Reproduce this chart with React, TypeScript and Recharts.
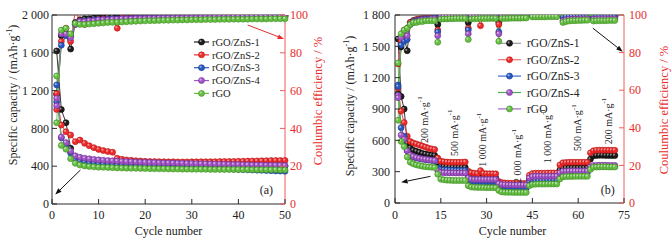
import React from 'react';
import { ComposedChart, Line, XAxis, YAxis, ReferenceLine, ReferenceDot, Customized } from 'recharts';

const FONT = '"Liberation Serif", "Times New Roman", Times, serif';
const AXIS = '#2b2b2b';
const RED_AXIS = '#f25a5a';
const RED_TEXT = '#e82c2c';

const seriesNames = ['rGO/ZnS-1', 'rGO/ZnS-2', 'rGO/ZnS-3', 'rGO/ZnS-4', 'rGO'];
const markerColors = ['#1e1e1e', '#ef2b2b', '#2858c2', '#a255c6', '#66c044'];
const markerEdges = ['#000000', '#b01818', '#173a8a', '#6e2f8e', '#3f8a24'];
const legendLineColorsB = ['#9a9a9a', '#f07070', '#3a6ad0', '#4caf50', '#a066c8'];

// ---------- Panel (a) ----------
const cyclesA = [1,2,3,4,5,6,7,8,9,10,11,12,13,14,15,16,17,18,19,20,21,22,23,24,25,26,27,28,29,30,31,32,33,34,35,36,37,38,39,40,41,42,43,44,45,46,47,48,49,50];
const capA1 = [1620,1000,860,590,475,455,448,442,437,433, 430,428,426,424,422,420,419,418,417,416, 415,414,413,412,411,410,410,409,408,408, 407,406,406,405,405,404,404,403,403,402, 402,402,401,401,400,400,400,400,400,400];
const capA2 = [1170,835,765,730,660,677,642,617,596,578, 565,555,548,483,473,466,462,458,455,452, 450,449,448,447,446,446,445,445,445,446, 446,447,447,448,448,449,450,450,451,452, 453,454,455,456,457,458,459,460,460,461];
const capA3 = [1260,700,620,540,470,452,442,435,430,425, 421,418,415,412,410,408,406,404,402,400, 398,396,395,393,392,390,388,386,385,383, 381,380,378,377,375,373,372,370,368,366, 364,362,360,358,356,354,352,350,348,346];
const capA4 = [1118,710,650,560,510,495,485,478,472,467, 463,460,457,454,451,449,447,445,443,441, 440,438,437,435,434,433,432,430,429,428, 427,426,425,424,423,421,420,419,418,417, 416,415,414,413,412,411,410,410,409,408];
const capA5 = [1355,620,580,480,430,412,403,397,393,390, 388,386,384,382,380,379,378,377,376,375, 374,373,372,372,371,370,370,369,369,368, 368,367,367,366,366,366,365,365,365,364, 364,364,363,363,363,362,362,362,361,361];
const ceA1 = [58,89,90,82,96,97.5,98,98,98.5,98.5, 98.5,99,99,98.5,99,99,99,99,99.2,99.2, 99.2,99.3,99.3,99.3,99.4,99.4,99.4,99.5,99.5,99.5, 99.5,99.5,99.5,99.6,99.6,99.6,99.6,99.6,99.7,99.7, 99.7,99.7,99.7,99.7,99.8,99.8,99.8,99.8,99.8,99.8];
const ceA2 = [50,86,93,86,102,97,95,97,97.5,97.5, 98,98,98,93,98.5,98.5,98.5,99,99,99, 99,99,99.2,99.2,99.2,99.3,99.3,99.3,99.4,99.4, 99.4,99.5,99.5,99.5,99.5,99.5,99.6,99.6,99.6,99.6, 99.6,99.7,99.7,99.7,99.7,99.7,99.7,99.8,99.8,99.8];
const ceA3 = [54,84,89,89,95,96.5,97,97,97.5,97.5, 97.5,98,98,98,98,98.2,98.2,98.4,98.4,98.5, 98.5,98.6,98.6,98.7,98.7,98.8,98.8,98.8,98.9,98.9, 99,99,99,99,99.1,99.1,99.1,99.2,99.2,99.2, 99.2,99.3,99.3,99.3,99.3,99.4,99.4,99.4,99.4,99.4];
const ceA4 = [52,90,90,88,95,96.5,96.5,97,97,97.5, 97.5,97.5,97.8,97.8,98,98,98,98.2,98.2,98.2, 98.3,98.3,98.4,98.4,98.4,98.5,98.5,98.5,98.6,98.6, 98.6,98.7,98.7,98.7,98.8,98.8,98.8,98.8,98.9,98.9, 98.9,98.9,99,99,99,99,99,99,99,99];
const ceA5 = [43,92,93,90,95.5,95,95,95.2,95.4,95.6, 95.8,96,96.1,96.2,96.3,96.4,96.6,96.7,96.8,96.9, 97,97,97.1,97.2,97.2,97.3,97.3,97.4,97.4,97.5, 97.5,97.5,97.6,97.6,97.6,97.7,97.7,97.7,97.8,97.8, 97.8,97.8,97.9,97.9,97.9,97.9,98,98,98,98];

const xTicksA = [0, 10, 20, 30, 40, 50];
const yTicksA = [0, 400, 800, 1200, 1600, 2000];
const yTickLabelsA = ['0', '400', '800', '1 200', '1 600', '2 000'];
const ceTicks = [0, 20, 40, 60, 80, 100];
const ceTickLabels = ['0', '20', '40', '60', '80', '100'];

// ---------- Panel (b) ----------
const cyclesB = [1,2,3,4,5,6,7,8,9,10,11,12,13,14,15,16,17,18,19,20,21,22,23,24,25,26,27,28,29,30,31,32,33,34,35,36,37,38,39,40,41,42,43,44,45,46,47,48,49,50,51,52,53,54,55,56,57,58,59,60,61,62,63,64,65,66,67,68,69,70,71,72];
const capB1 = [1570,1020,900,570,530,505,495,485,475,468,462,458,455,
  375,352,348,346,345,344,343,342,342,341,
  265,248,245,243,242,241,240,240,240,240,
  175,162,160,159,158,158,157,157,157,156,
  225,238,240,241,241,242,242,242,243,243,
  315,332,334,335,335,336,336,336,336,336,
  420,452,455,456,456,455,455,454,454];
const capB2 = [1100,880,770,640,590,575,565,555,545,535,525,518,512,
  430,400,395,392,391,390,390,390,391,392,
  305,290,285,282,310,283,281,280,280,279,
  205,195,192,190,189,188,188,187,187,187,
  265,282,285,286,286,286,287,287,287,287,
  365,385,388,389,389,390,390,390,390,390,
  480,500,505,506,506,506,505,505,505];
const capB3 = [1130,720,640,500,450,440,432,425,420,415,411,408,405,
  335,320,317,315,314,313,312,312,311,311,
  220,208,206,205,204,204,203,203,203,203,
  160,148,146,145,145,144,144,144,144,144,
  200,212,214,215,215,215,216,216,216,216,
  275,288,290,291,291,292,292,292,292,292,
  335,348,350,351,351,351,350,350,350];
const capB4 = [1030,650,610,500,460,445,435,428,422,418,414,410,407,
  310,293,290,289,288,288,287,287,287,287,
  240,228,226,225,225,224,224,224,224,224,
  185,176,174,173,173,172,172,172,172,172,
  240,253,255,256,256,256,257,257,257,257,
  290,303,305,306,306,306,307,307,307,307,
  345,358,360,361,361,361,360,360,360];
const capB5 = [1340,590,540,440,390,375,365,358,352,348,345,342,340,
  275,228,222,219,217,216,215,215,215,215,
  165,153,150,149,148,148,147,147,147,147,
  120,105,103,102,102,101,101,101,101,101,
  165,178,180,181,181,181,182,182,182,182,
  230,250,253,254,254,255,255,255,255,255,
  320,342,345,346,346,346,345,345,345];
const ceB1 = [58,83,88,81,96,97,97.5,97.5,98,98,98,98.5,98.5,
  95,99.5,99.6,99.6,99.7,99.7,99.7,99.7,99.7,99.7,
  96,99.6,99.7,99.7,99.7,99.7,99.8,99.8,99.8,99.8,
  96,99.7,99.7,99.8,99.8,99.8,99.8,99.8,99.8,99.8,
  104,99.9,99.9,99.9,99.9,99.9,99.9,99.9,99.9,99.9,
  103,99.3,99.4,99.4,99.4,99.5,99.5,99.5,99.5,99.5,
  103,99.3,99.3,99.4,99.4,99.4,99.4,99.4,99.4];
const ceB2 = [74,86,92,93,96,97,97.5,98,98,98,98.5,98.5,98.5,
  92,99.5,99.6,99.6,99.7,99.7,99.7,99.7,99.7,99.7,
  93,99.5,99.6,99.6,94.3,99.6,99.7,99.7,99.7,99.7,
  95,99.6,99.7,99.7,99.7,99.7,99.8,99.8,99.8,99.8,
  105,99.9,99.9,99.9,99.9,99.9,99.9,99.9,99.9,99.9,
  104,99.3,99.4,99.4,99.4,99.5,99.5,99.5,99.5,99.5,
  104,99.3,99.3,99.4,99.4,99.4,99.4,99.4,99.4];
const ceB3 = [62,84,86,87,95,96.5,97,97.5,97.5,98,98,98,98.5,
  91,99.3,99.4,99.4,99.5,99.5,99.5,99.5,99.5,99.5,
  92,99.4,99.5,99.5,99.5,99.5,99.6,99.6,99.6,99.6,
  91,99.5,99.5,99.6,99.6,99.6,99.6,99.6,99.6,99.6,
  104,99.8,99.8,99.8,99.8,99.8,99.8,99.8,99.8,99.8,
  103,99,99.1,99.1,99.2,99.2,99.2,99.2,99.2,99.2,
  103,99,99,99.1,99.1,99.1,99.1,99.1,99.1];
const ceB4 = [56,88,90,89,95,96,96.5,97,97.5,97.5,97.5,98,98,
  89,98.8,99,99,99.1,99.1,99.2,99.2,99.2,99.2,
  90,99,99.1,99.1,99.2,99.2,99.2,99.3,99.3,99.3,
  90,99.1,99.2,99.2,99.3,99.3,99.3,99.3,99.3,99.3,
  103,99.6,99.6,99.6,99.6,99.6,99.6,99.6,99.6,99.6,
  102,97,97.5,97.8,97.8,97.9,97.9,98,98,98,
  102,97.8,97.9,98,98,98,98,98,98];
const ceB5 = [44,90,92,93,95,96,96,96.5,96.5,97,97,97,97,
  85.5,97.8,97.9,97.9,98,98,98.1,98.1,98.1,98.1,
  87,97.9,98,98,98.1,98.1,98.1,98.2,98.2,98.2,
  86,98.1,98.2,98.2,98.3,98.3,98.3,98.3,98.4,98.4,
  102,99,99,99,99,99,99.1,99.1,99.1,99.1,
  101,96,96.5,96.8,97,97,97.1,97.1,97.2,97.2,
  101,96.8,96.9,97,97,97,97.1,97.1,97.1];

const xTicksB = [0, 15, 30, 45, 60, 75];
const yTicksB = [0, 300, 600, 900, 1200, 1500, 1800];
const yTickLabelsB = ['0', '300', '600', '900', '1 200', '1 500', '1 800'];
const rateLabelsB = ['200', '500', '1 000', '2 000', '1 000', '500', '200'];

// annotation layout (data coordinates)
const rateLabelPosB = [
  { x: 9.6, y: 798 }, { x: 19.4, y: 673 }, { x: 28.8, y: 606 }, { x: 40.2, y: 450 },
  { x: 49.8, y: 640 }, { x: 59.9, y: 721 }, { x: 69.8, y: 785 },
];

const buildRows = (cycles: number[], caps: number[][], ces: number[][]) =>
  cycles.map((c, i) => {
    const row: any = { cycle: c };
    caps.forEach((arr, k) => { row['cap' + k] = arr[i]; });
    ces.forEach((arr, k) => { row['ce' + k] = arr[i]; });
    return row;
  });

const dataA = buildRows(cyclesA, [capA1, capA2, capA3, capA4, capA5], [ceA1, ceA2, ceA3, ceA4, ceA5]);
const dataB = buildRows(cyclesB, [capB1, capB2, capB3, capB4, capB5], [ceB1, ceB2, ceB3, ceB4, ceB5]);

const TICK_LEN = 5;
const serifStyle: React.CSSProperties = { fontFamily: FONT, fontWeight: 400 };

const makeDot = (k: number) => (p: any) => {
  const { cx, cy, index } = p;
  if (cx == null || cy == null || isNaN(cx) || isNaN(cy)) return <g key={'e' + index} />;
  return (
    <g key={'d' + index}>
      <circle cx={cx} cy={cy} r={3} fill={markerColors[k]} stroke={markerEdges[k]} strokeWidth={0.6} />
      <circle cx={cx - 0.9} cy={cy - 0.9} r={1.1} fill="#ffffff" fillOpacity={0.5} />
    </g>
  );
};

const leftTick = (labels: string[], ticks: number[], gap: number) => (p: any) => {
  const { x, y, payload } = p;
  const ax = x + gap;
  return (
    <g>
      <line x1={ax} x2={ax + TICK_LEN} y1={y} y2={y} stroke={AXIS} strokeWidth={1} />
      <text x={x} y={y} dy="0.35em" textAnchor="end" fontSize={12} style={serifStyle} fill="#222">
        {labels[ticks.indexOf(payload.value)]}
      </text>
    </g>
  );
};

const rightTick = (labels: string[], ticks: number[], gap: number) => (p: any) => {
  const { x, y, payload } = p;
  const ax = x - gap;
  return (
    <g>
      <line x1={ax} x2={ax - TICK_LEN} y1={y} y2={y} stroke={RED_AXIS} strokeWidth={1} />
      <text x={x} y={y} dy="0.35em" textAnchor="start" fontSize={12} style={serifStyle} fill={RED_TEXT}>
        {labels[ticks.indexOf(payload.value)]}
      </text>
    </g>
  );
};

const bottomTick = (gap: number) => (p: any) => {
  const { x, y, payload } = p;
  const ay = y - gap;
  return (
    <g>
      <line x1={x} x2={x} y1={ay} y2={ay - TICK_LEN} stroke={AXIS} strokeWidth={1} />
      <text x={x} y={y} dy="0.71em" textAnchor="middle" fontSize={12} style={serifStyle} fill="#222">
        {String(payload.value)}
      </text>
    </g>
  );
};

const leftTitle = (dx: number, cyAbs: number) => (p: any) => {
  const vb = p.viewBox || {};
  const x = vb.x + dx;
  const y = cyAbs;
  return (
    <text x={x} y={y} transform={`rotate(-90 ${x} ${y})`} textAnchor="middle" dominantBaseline="central"
      fontSize={12} style={serifStyle} fill="#222">
      Specific capacity / (mAh·g<tspan dy={-4} fontSize={8}>-1</tspan><tspan dy={4}>)</tspan>
    </text>
  );
};

const rightTitle = (dx: number, cyAbs: number) => (p: any) => {
  const vb = p.viewBox || {};
  const x = vb.x + dx;
  const y = cyAbs;
  return (
    <text x={x} y={y} transform={`rotate(-90 ${x} ${y})`} textAnchor="middle" dominantBaseline="central"
      fontSize={12.5} style={serifStyle} fill={RED_TEXT}>
      Coulumbic  efficiency / %
    </text>
  );
};

const bottomTitle = (dx: number, yAbs: number) => (p: any) => {
  const vb = p.viewBox || {};
  const x = vb.x + vb.width / 2 + dx;
  return (
    <text x={x} y={yAbs} textAnchor="middle" dominantBaseline="central" fontSize={12} style={serifStyle} fill="#222">
      Cycle number
    </text>
  );
};

const arrowShape = (color: string) => (p: any) => {
  const { x1, y1, x2, y2 } = p;
  if ([x1, y1, x2, y2].some((v) => v == null || isNaN(v))) return <g />;
  const a = Math.atan2(y2 - y1, x2 - x1);
  const L = 6.5, W = 2.4;
  const bx = x2 - L * Math.cos(a);
  const by = y2 - L * Math.sin(a);
  const px = -Math.sin(a) * W;
  const py = Math.cos(a) * W;
  return (
    <g>
      <line x1={x1} y1={y1} x2={bx} y2={by} stroke={color} strokeWidth={1} />
      <polygon points={`${x2},${y2} ${bx + px},${by + py} ${bx - px},${by - py}`} fill={color} />
    </g>
  );
};

const textShape = (content: React.ReactNode, size: number, rotate: boolean) => (p: any) => {
  const { cx, cy } = p;
  if (cx == null || cy == null) return <g />;
  return (
    <text x={cx} y={cy} transform={rotate ? `rotate(-90 ${cx} ${cy})` : undefined} textAnchor="middle"
      dominantBaseline="central" fontSize={size} style={serifStyle} fill="#222">
      {content}
    </text>
  );
};

// legend drawn inside the chart svg
const LegendGroup = ({ left, top, lineColors, rowGap, lineLen, textX, fontSize }: any) => (
  <g transform={`translate(${left} ${top})`}>
    {seriesNames.map((n, i) => {
      const y = i * rowGap;
      return (
        <g key={n}>
          <line x1={0} x2={lineLen} y1={y} y2={y} stroke={lineColors[i]} strokeWidth={1.2} />
          <circle cx={lineLen / 2} cy={y} r={3} fill={markerColors[i]} stroke={markerEdges[i]} strokeWidth={0.6} />
          <circle cx={lineLen / 2 - 0.9} cy={y - 0.9} r={1.1} fill="#fff" fillOpacity={0.5} />
          <text x={textX} y={y} dy="0.35em" fontSize={fontSize} style={serifStyle} fill="#222">{n}</text>
        </g>
      );
    })}
  </g>
);

const seriesLines = (lineColors: string[]) => {
  const out: React.ReactNode[] = [];
  [0, 1, 2, 3, 4].forEach((k) => {
    out.push(
      <Line key={'cap' + k} type="linear" dataKey={'cap' + k} yAxisId="left" stroke={lineColors[k]} strokeWidth={0.9}
        dot={makeDot(k)} activeDot={false} isAnimationActive={false} legendType="none" />
    );
    out.push(
      <Line key={'ce' + k} type="linear" dataKey={'ce' + k} yAxisId="right" stroke={lineColors[k]} strokeWidth={0.9}
        dot={makeDot(k)} activeDot={false} isAnimationActive={false} legendType="none" />
    );
  });
  return out;
};

const PanelA = () => (
  <ComposedChart width={336} height={245} data={dataA} margin={{ top: 15, right: 0, bottom: 0, left: 0 }}
    style={{ fontFamily: FONT }}>
    <XAxis type="number" dataKey="cycle" domain={[0, 50]} ticks={xTicksA} interval={0} height={41}
      tickSize={0} tickMargin={6} tickLine={false} stroke={AXIS} tick={bottomTick(6)}
      label={{ content: bottomTitle(0, 231) }} />
    <YAxis yAxisId="left" domain={[0, 2000]} ticks={yTicksA} interval={0} width={52}
      tickSize={0} tickMargin={3} tickLine={false} stroke={AXIS} tick={leftTick(yTickLabelsA, yTicksA, 3)}
      label={{ content: leftTitle(13, 95) }} />
    <YAxis yAxisId="right" orientation="right" domain={[0, 100]} allowDataOverflow ticks={ceTicks} interval={0} width={51}
      tickSize={0} tickMargin={5} tickLine={false} stroke={RED_AXIS} tick={rightTick(ceTickLabels, ceTicks, 5)}
      label={{ content: rightTitle(33, 101) }} />
    <ReferenceLine yAxisId="left" y={2000} stroke={AXIS} strokeWidth={1} />
    {seriesLines(markerColors)}
    <ReferenceLine yAxisId="left" segment={[{ x: 6.1, y: 360 }, { x: 0.7, y: 100 }]} shape={arrowShape('#111')} />
    <ReferenceLine yAxisId="right" segment={[{ x: 42, y: 94.7 }, { x: 49.8, y: 87.3 }]} shape={arrowShape('#e82c2c')} />
    <ReferenceDot yAxisId="left" x={46} y={148} r={0} shape={textShape('(a)', 12, false)} />
    <Customized component={() => (
      <LegendGroup left={194} top={42} lineColors={markerColors} rowGap={12.85} lineLen={15} textX={18} fontSize={10.5} />
    )} />
  </ComposedChart>
);

const PanelB = () => (
  <ComposedChart width={336} height={245} data={dataB} margin={{ top: 15, right: 0, bottom: 0, left: 0 }}
    style={{ fontFamily: FONT }}>
    <XAxis type="number" dataKey="cycle" domain={[0, 75]} ticks={xTicksB} interval={0} height={42}
      tickSize={0} tickMargin={7} tickLine={false} stroke={AXIS} tick={bottomTick(7)}
      label={{ content: bottomTitle(3, 231) }} />
    <YAxis yAxisId="left" domain={[0, 1800]} ticks={yTicksB} interval={0} width={59}
      tickSize={0} tickMargin={5} tickLine={false} stroke={AXIS} tick={leftTick(yTickLabelsB, yTicksB, 5)}
      label={{ content: leftTitle(14, 106) }} />
    <YAxis yAxisId="right" orientation="right" domain={[0, 100]} allowDataOverflow ticks={ceTicks} interval={0} width={48}
      tickSize={0} tickMargin={5} tickLine={false} stroke={RED_AXIS} tick={rightTick(ceTickLabels, ceTicks, 5)}
      label={{ content: rightTitle(40, 110) }} />
    <ReferenceLine yAxisId="left" y={1800} stroke={AXIS} strokeWidth={1} />
    {seriesLines(markerColors)}
    {rateLabelsB.map((r, i) => (
      <ReferenceDot key={'rl' + i} yAxisId="left" x={rateLabelPosB[i].x} y={rateLabelPosB[i].y} r={0}
        shape={textShape(<>{r} mA·g<tspan dy={-4} fontSize={7}>-1</tspan></>, 10, true)} />
    ))}
    <ReferenceLine yAxisId="left" segment={[{ x: 11.6, y: 255 }, { x: 2, y: 198 }]} shape={arrowShape('#111')} />
    <ReferenceLine yAxisId="right" segment={[{ x: 64.8, y: 93 }, { x: 74.6, y: 80.5 }]} shape={arrowShape('#111')} />
    <ReferenceDot yAxisId="left" x={69.7} y={127} r={0} shape={textShape('(b)', 12, false)} />
    <Customized component={() => (
      <LegendGroup left={162} top={43.3} lineColors={legendLineColorsB} rowGap={16.4} lineLen={23} textX={29} fontSize={11.5} />
    )} />
  </ComposedChart>
);

export default function App() {
  return (
    <div style={{ position: 'absolute', left: 0, top: 0, width: 672, height: 245, background: '#fff', display: 'flex' }}>
      <div style={{ width: 336, height: 245, position: 'relative' }}><PanelA /></div>
      <div style={{ width: 336, height: 245, position: 'relative' }}><PanelB /></div>
    </div>
  );
}
